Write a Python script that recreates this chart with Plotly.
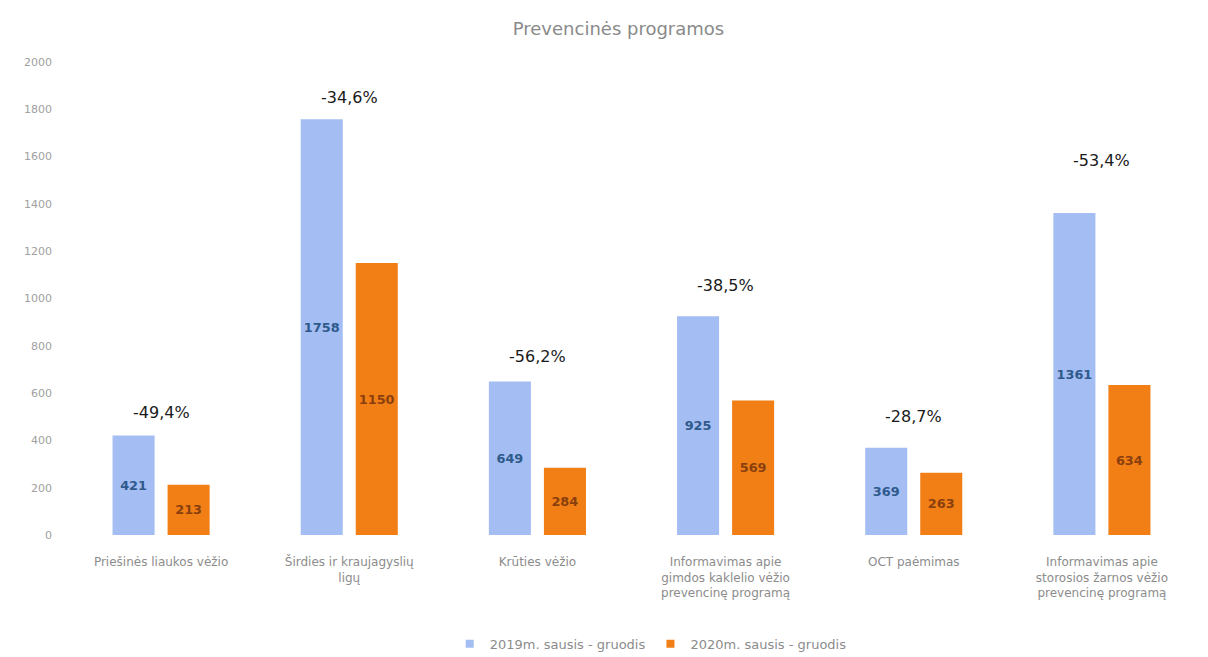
import plotly.graph_objects as go

categories = [
    "Priešinės liaukos vėžio",
    "Širdies ir kraujagyslių<br>ligų",
    "Krūties vėžio",
    "Informavimas apie<br>gimdos kaklelio vėžio<br>prevencinę programą",
    "OCT paėmimas",
    "Informavimas apie<br>storosios žarnos vėžio<br>prevencinę programą",
]
values_2019 = [421, 1758, 649, 925, 369, 1361]
values_2020 = [213, 1150, 284, 569, 263, 634]
change_labels = ["-49,4%", "-34,6%", "-56,2%", "-38,5%", "-28,7%", "-53,4%"]
change_label_y = [516, 1848, 753, 1057, 499, 1585]
series_names = ["2019m. sausis - gruodis", "2020m. sausis - gruodis"]
series_colors = ["#A4BDF2", "#F27F16"]
label_colors = ["#2F5A8C", "#8A3F0E"]
y_ticks = [0, 200, 400, 600, 800, 1000, 1200, 1400, 1600, 1800, 2000]

font_family = "DejaVu Sans, sans-serif"

fig = go.Figure()
for name, vals, col, lcol in zip(series_names, [values_2019, values_2020],
                                 series_colors, label_colors):
    fig.add_trace(go.Bar(
        x=categories, y=vals, name=name, showlegend=False,
        marker=dict(color=col, line=dict(width=0)),
        text=vals, textposition="inside", insidetextanchor="middle",
        textfont=dict(color=lcol, size=14, family=font_family, weight="bold"),
        textangle=0,
    ))
# small square swatches for the legend
for name, col in zip(series_names, series_colors):
    fig.add_trace(go.Scatter(
        x=[None], y=[None], mode="markers", name=name,
        marker=dict(symbol="square", size=8, color=col),
    ))

for cat, lab, yy in zip(categories, change_labels, change_label_y):
    fig.add_annotation(
        x=cat, y=yy, text=lab, showarrow=False,
        font=dict(size=16, color="#1a1a1a", family=font_family),
    )

fig.update_layout(
    width=1208, height=657,
    paper_bgcolor="white", plot_bgcolor="white",
    margin=dict(l=67, r=12, t=62, b=122, autoexpand=False),
    title=dict(text="Prevencinės programos", x=0.512, xanchor="center",
               y=0.957, yanchor="middle",
               font=dict(size=18, color="#8a8a8a", family=font_family)),
    barmode="group", bargap=0.415, bargroupgap=0.236,
    uniformtext=dict(minsize=8, mode="show"),
    showlegend=True,
    legend=dict(orientation="h", x=0.517, xanchor="center",
                yref="container", y=0.02, yanchor="middle",
                font=dict(size=13, color="#8c8c8c", family=font_family),
                itemwidth=30, traceorder="normal"),
    font=dict(family=font_family),
)
fig.update_xaxes(
    tickfont=dict(size=12, color="#8c8c8c", family=font_family),
    showline=False, ticks="", showgrid=False, automargin=False,
    ticklabelstandoff=18,
)
fig.update_yaxes(
    range=[0, 2000], tickvals=y_ticks,
    tickfont=dict(size=11, color="#a0a0a0", family=font_family),
    showgrid=False, zeroline=False, showline=False, ticks="", automargin=False,
    ticklabelstandoff=14,
)

fig.write_html("out.html")
